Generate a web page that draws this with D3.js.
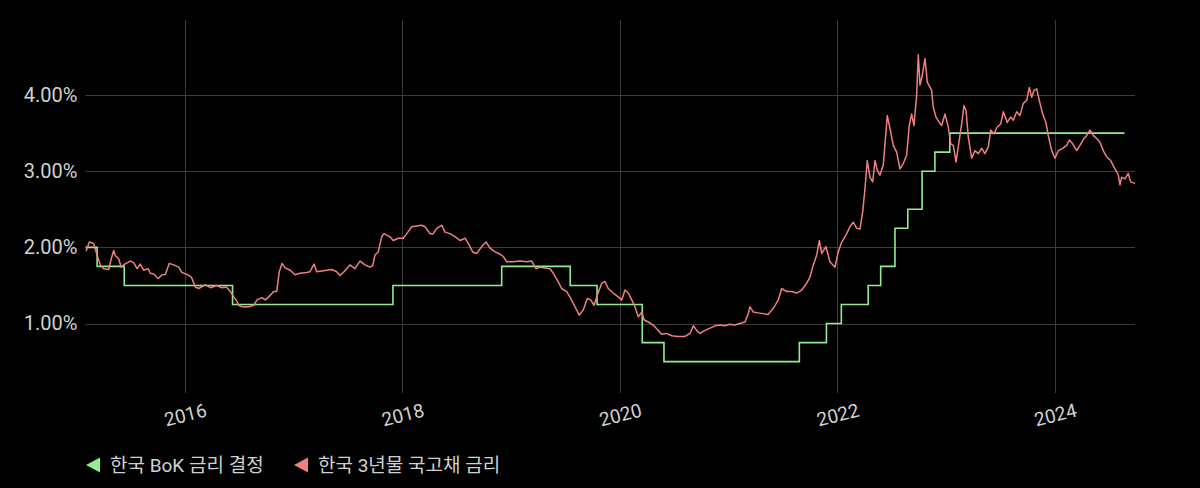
<!DOCTYPE html>
<html>
<head>
<meta charset="utf-8">
<script src="https://cdn.jsdelivr.net/npm/d3@7"></script>
<style>
  html, body { margin: 0; padding: 0; background: #000; }
  svg { display: block; }
  text { font-family: Roboto, "Noto Sans CJK KR", sans-serif; }
</style>
</head>
<body>
<svg id="chart" width="1200" height="488"></svg>
<script>
// ---------------- DATA ----------------
const seriesNames = ["한국 BoK 금리 결정", "한국 3년물 국고채 금리"];
const seriesColors = ["#90ee90", "#f08080"];

// BoK base-rate decisions (step series)
const bokDates = ["2015-02-01","2015-03-12","2015-06-11","2016-06-09","2017-11-30","2018-11-30",
  "2019-07-18","2019-10-16","2020-03-16","2020-05-28","2021-08-26","2021-11-25","2022-01-14",
  "2022-04-14","2022-05-26","2022-07-13","2022-08-25","2022-10-12","2022-11-24","2023-01-13","2024-08-22"];
const bokRates = [2.00,1.75,1.50,1.25,1.50,1.75,1.50,1.25,0.75,0.50,0.75,1.00,1.25,1.50,1.75,2.25,2.50,3.00,3.25,3.50,3.50];

// Korea 3Y treasury yield (decimal year, %)
const yieldYears = [2015.090,2015.120,2015.160,2015.191,2015.221,2015.252,2015.298,2015.322,2015.344,2015.359,
  2015.390,2015.414,2015.446,2015.497,2015.528,2015.559,2015.589,2015.620,2015.660,2015.681,2015.712,2015.752,
  2015.789,2015.819,2015.856,2015.896,2015.942,2015.972,2016.018,2016.058,2016.095,2016.126,2016.187,2016.233,
  2016.294,2016.340,2016.380,2016.417,2016.448,2016.469,2016.494,2016.524,2016.586,2016.632,2016.662,2016.708,
  2016.738,2016.770,2016.816,2016.843,2016.867,2016.892,2016.922,2016.968,2017.011,2017.057,2017.119,2017.149,
  2017.186,2017.211,2017.257,2017.303,2017.349,2017.395,2017.425,2017.456,2017.517,2017.563,2017.609,2017.655,
  2017.701,2017.726,2017.747,2017.777,2017.809,2017.830,2017.855,2017.885,2017.915,2017.961,2018.007,2018.039,
  2018.085,2018.131,2018.177,2018.207,2018.253,2018.283,2018.315,2018.361,2018.391,2018.437,2018.483,2018.529,
  2018.575,2018.605,2018.646,2018.682,2018.728,2018.768,2018.805,2018.851,2018.897,2018.927,2018.958,2019.016,
  2019.080,2019.142,2019.188,2019.228,2019.264,2019.310,2019.356,2019.387,2019.423,2019.464,2019.510,2019.547,
  2019.586,2019.626,2019.663,2019.699,2019.731,2019.761,2019.791,2019.832,2019.862,2019.892,2019.938,2019.984,
  2020.016,2020.046,2020.076,2020.108,2020.138,2020.168,2020.200,2020.221,2020.260,2020.306,2020.352,2020.383,
  2020.429,2020.475,2020.536,2020.598,2020.644,2020.674,2020.705,2020.736,2020.782,2020.828,2020.874,2020.920,
  2020.966,2021.011,2021.057,2021.103,2021.149,2021.180,2021.195,2021.226,2021.269,2021.318,2021.361,2021.410,
  2021.456,2021.487,2021.533,2021.579,2021.625,2021.671,2021.717,2021.747,2021.778,2021.809,2021.833,2021.855,
  2021.894,2021.931,2021.977,2022.007,2022.039,2022.078,2022.115,2022.145,2022.177,2022.207,2022.232,2022.253,
  2022.274,2022.299,2022.324,2022.345,2022.366,2022.391,2022.421,2022.458,2022.483,2022.513,2022.544,2022.575,
  2022.605,2022.636,2022.660,2022.682,2022.703,2022.728,2022.743,2022.759,2022.780,2022.805,2022.826,2022.866,
  2022.881,2022.906,2022.936,2022.958,2022.989,2023.019,2023.041,2023.065,2023.090,2023.120,2023.142,2023.163,
  2023.182,2023.203,2023.234,2023.264,2023.295,2023.326,2023.356,2023.387,2023.409,2023.439,2023.469,2023.501,
  2023.525,2023.561,2023.593,2023.617,2023.648,2023.678,2023.709,2023.740,2023.764,2023.786,2023.807,2023.832,
  2023.856,2023.887,2023.917,2023.938,2023.970,2024.000,2024.030,2024.071,2024.108,2024.132,2024.163,2024.200,
  2024.230,2024.267,2024.292,2024.322,2024.352,2024.383,2024.414,2024.444,2024.475,2024.512,2024.552,2024.582,
  2024.598,2024.613,2024.644,2024.674,2024.696,2024.736];
const yieldValues = [1.95,2.07,2.05,1.90,1.77,1.72,1.71,1.85,1.96,1.89,
  1.85,1.74,1.78,1.82,1.80,1.72,1.78,1.70,1.72,1.66,1.65,1.59,
  1.64,1.645,1.79,1.77,1.74,1.67,1.645,1.61,1.48,1.46,1.51,1.47,
  1.50,1.47,1.48,1.42,1.35,1.31,1.24,1.22,1.22,1.24,1.31,1.34,
  1.31,1.35,1.42,1.42,1.68,1.79,1.73,1.70,1.64,1.66,1.67,1.68,
  1.78,1.68,1.69,1.70,1.71,1.68,1.63,1.67,1.77,1.72,1.82,1.77,
  1.74,1.76,1.90,1.94,2.14,2.18,2.16,2.14,2.09,2.12,2.12,2.18,
  2.27,2.28,2.29,2.27,2.18,2.18,2.25,2.29,2.20,2.18,2.14,2.09,
  2.12,2.05,1.94,1.92,2.01,2.07,1.99,1.94,1.91,1.88,1.81,1.81,
  1.82,1.81,1.82,1.72,1.74,1.73,1.72,1.66,1.57,1.46,1.42,1.33,
  1.22,1.11,1.18,1.33,1.31,1.24,1.37,1.53,1.55,1.46,1.40,1.35,
  1.31,1.44,1.40,1.31,1.22,1.09,1.15,1.05,1.02,0.98,0.91,0.86,
  0.87,0.84,0.83,0.83,0.87,0.97,0.91,0.87,0.91,0.94,0.97,0.98,
  0.97,0.99,0.98,1.00,1.02,1.13,1.22,1.15,1.14,1.13,1.12,1.20,
  1.31,1.46,1.42,1.42,1.40,1.44,1.53,1.61,1.77,1.90,2.09,1.92,
  2.01,1.81,1.74,1.94,2.07,2.16,2.27,2.33,2.25,2.24,2.47,2.77,
  3.14,2.92,2.86,3.14,3.01,2.95,3.08,3.73,3.56,3.34,3.25,3.03,
  3.10,3.21,3.60,3.75,3.60,3.99,4.53,4.13,4.26,4.48,4.17,4.06,
  3.84,3.71,3.64,3.60,3.75,3.58,3.36,3.34,3.12,3.41,3.62,3.86,
  3.80,3.45,3.17,3.27,3.23,3.30,3.23,3.32,3.54,3.49,3.58,3.62,
  3.78,3.64,3.71,3.67,3.78,3.73,3.89,3.93,4.10,3.97,4.06,4.08,
  3.93,3.75,3.64,3.47,3.27,3.17,3.27,3.30,3.34,3.41,3.36,3.27,
  3.34,3.43,3.47,3.54,3.47,3.43,3.38,3.27,3.19,3.14,3.03,2.95,
  2.82,2.92,2.90,2.97,2.86,2.84];

const yTicks = [1, 2, 3, 4];
const xTicks = [2016, 2018, 2020, 2022, 2024];

// ---------------- HELPERS ----------------
function decYear(s) {
  const d = new Date(s + "T00:00:00Z");
  const y = d.getUTCFullYear();
  const a = Date.UTC(y, 0, 1), b = Date.UTC(y + 1, 0, 1);
  return y + (d.getTime() - a) / (b - a);
}

const bok = bokDates.map((d, i) => ({ t: decYear(d), v: bokRates[i] }));
const yld = yieldYears.map((t, i) => ({ t, v: yieldValues[i] }));

// ---------------- LAYOUT ----------------
const svg = d3.select("#chart");
const plot = { left: 85.5, right: 1135, top: 20, bottom: 393 };

const x = d3.scaleLinear()
  .domain([bok[0].t, yld[yld.length - 1].t])
  .range([plot.left, plot.right]);
const y = d3.scaleLinear()
  .domain([0.088, 4.985])
  .range([plot.bottom, plot.top]);

svg.append("rect").attr("width", 1200).attr("height", 488).attr("fill", "#000");

// gridlines
const grid = svg.append("g").attr("stroke", "#3c3c3c").attr("stroke-width", 1);
grid.selectAll("line.h").data(yTicks).join("line")
  .attr("x1", plot.left).attr("x2", plot.right)
  .attr("y1", d => Math.round(y(d)) + 0.5).attr("y2", d => Math.round(y(d)) + 0.5);
grid.selectAll("line.v").data(xTicks).join("line")
  .attr("y1", plot.top).attr("y2", plot.bottom)
  .attr("x1", d => Math.round(x(d)) + 0.5).attr("x2", d => Math.round(x(d)) + 0.5);

// y axis labels
const yAxis = d3.axisLeft(y).tickValues(yTicks).tickSize(0).tickPadding(8)
  .tickFormat(d => d3.format(".2f")(d) + "%");
const gy = svg.append("g").attr("transform", `translate(${plot.left},0)`).call(yAxis);
gy.select(".domain").remove();
gy.selectAll("text").attr("fill", "#d0d0d0").style("font-size", "20px");

// x axis labels (rotated)
const xAxis = d3.axisBottom(x).tickValues(xTicks).tickSize(0).tickFormat(d3.format("d"));
const gx = svg.append("g").attr("transform", `translate(0,${plot.bottom})`).call(xAxis);
gx.select(".domain").remove();
gx.selectAll("text")
  .attr("fill", "#d0d0d0").style("font-size", "19px")
  .attr("y", 0).attr("dy", 0)
  .attr("text-anchor", "middle").attr("dominant-baseline", "central")
  .attr("transform", "translate(0,22) rotate(-14)");

// lines
const line = d3.line().x(d => x(d.t)).y(d => y(d.v));
svg.append("path").datum(bok)
  .attr("fill", "none").attr("stroke", seriesColors[0]).attr("stroke-width", 1.6)
  .attr("d", line.curve(d3.curveStepAfter));
svg.append("path").datum(yld)
  .attr("fill", "none").attr("stroke", seriesColors[1]).attr("stroke-width", 1.5)
  .attr("stroke-linejoin", "round")
  .attr("d", d3.line().x(d => x(d.t)).y(d => y(d.v)));

// legend
const legendX = [86, 294];
const legend = svg.append("g").attr("transform", "translate(0,465)");
seriesNames.forEach((name, i) => {
  const g = legend.append("g").attr("transform", `translate(${legendX[i]},0)`);
  g.append("path").attr("d", "M0,0 L14,-7.5 L14,7.5 Z").attr("fill", seriesColors[i]);
  g.append("text").attr("x", 24).attr("y", 0).attr("dominant-baseline", "central")
    .attr("fill", "#d0d0d0").style("font-size", "19px").text(name);
});
</script>
</body>
</html>
